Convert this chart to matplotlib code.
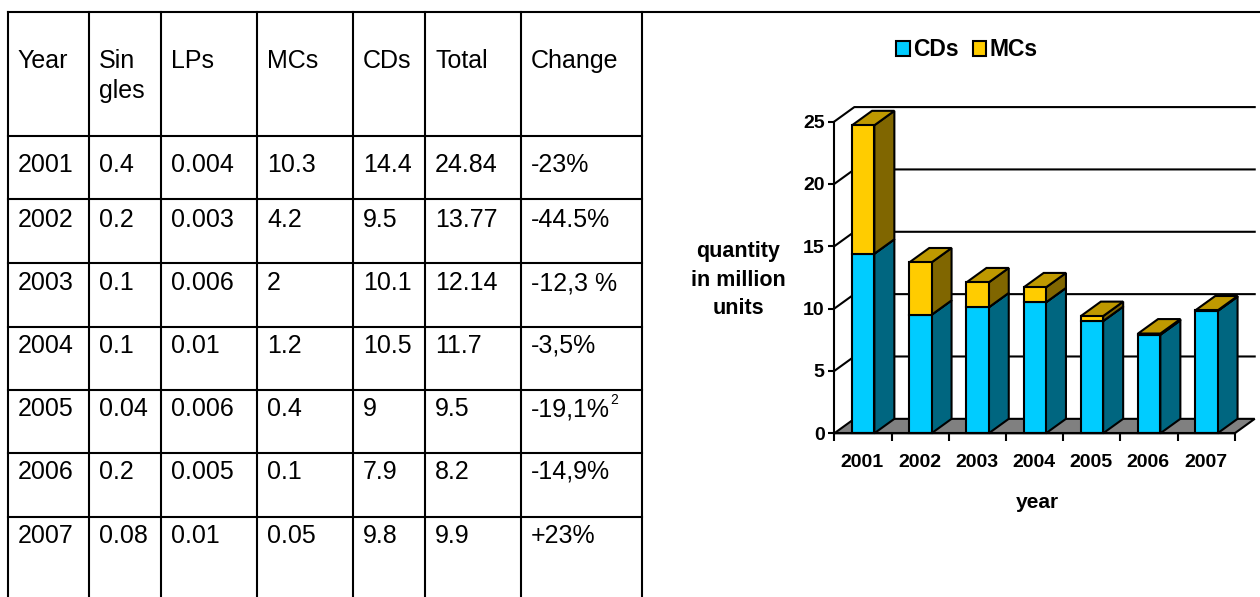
import numpy as np
import matplotlib.pyplot as plt
from matplotlib.patches import Patch

plt.rcParams['font.family'] = ['Liberation Sans', 'DejaVu Sans']

# --- data ---
years = ['2001', '2002', '2003', '2004', '2005', '2006', '2007']
singles = [0.4, 0.2, 0.1, 0.1, 0.04, 0.2, 0.08]
lps = [0.004, 0.003, 0.006, 0.01, 0.006, 0.005, 0.01]
mcs = [10.3, 4.2, 2, 1.2, 0.4, 0.1, 0.05]
cds = [14.4, 9.5, 10.1, 10.5, 9, 7.9, 9.8]
totals = [24.84, 13.77, 12.14, 11.7, 9.5, 8.2, 9.9]
change = ['-23%', '-44.5%', '-12,3 %', '-3,5%', '-19,1%', '-14,9%', '+23%']
footnote_row = 4
headers = ['Year', 'Sin\ngles', 'LPs', 'MCs', 'CDs', 'Total', 'Change']

W, H = 1260, 597
fig = plt.figure(figsize=(W / 100, H / 100), dpi=100)

# ---------- tabla (coordenadas en pixeles) ----------
tab = fig.add_axes([0, 0, 1, 1])
tab.set_xlim(0, W)
tab.set_ylim(H, 0)
tab.axis('off')

col_x = [7.5, 89, 161, 257, 353, 425, 521, 642]
row_y = [12, 136, 199.3, 262.7, 326.5, 390, 453.3, 517]
row_base = [172, 227, 290, 353, 416, 479, 543]

lw = 1.5
for x in col_x:
    tab.plot([x, x], [12, H], color='black', lw=lw, solid_capstyle='projecting')
for y in row_y[1:]:
    tab.plot([col_x[0], col_x[-1]], [y, y], color='black', lw=lw)
tab.plot([col_x[0], W], [12, 12], color='black', lw=lw, solid_capstyle='projecting')

fs_tab = 18
for j, h in enumerate(headers):
    for k, linea in enumerate(h.split('\n')):
        tab.text(col_x[j] + 10, 68 + 30 * k, linea, fontsize=fs_tab, va='baseline', ha='left')

columnas = [years, singles, lps, mcs, cds, totals, change]
for j, col in enumerate(columnas):
    for i, v in enumerate(col):
        s = v if isinstance(v, str) else f'{v:g}'
        t = tab.text(col_x[j] + 10, row_base[i], s, fontsize=fs_tab, va='baseline', ha='left')
        if j == 6 and i == footnote_row:
            tab.annotate('2', xy=(1, 1), xycoords=t, xytext=(0, 3), textcoords='offset points',
                         fontsize=10, ha='left', va='top')

# ---------- grafico 3D simulado ----------
px_cat = 57.2
px_val = 12.47
x0_px, y0_px = 834.3, 433.3
xmax, ymax = 7.4, 26.3
ax = fig.add_axes([x0_px / W, (H - y0_px) / H, xmax * px_cat / W, ymax * px_val / H])
ax.set_xlim(0, xmax)
ax.set_ylim(0, ymax)
ax.patch.set_visible(False)

ddx, ddy = 0.35, 1.16
n = len(years)

cd_front, cd_side, cd_top = '#00CCFF', '#006680', '#00A3CC'
mc_front, mc_side, mc_top = '#FFCC00', '#806600', '#BF9900'

# pared del fondo: lineas de cuadricula
for v in range(5, 26, 5):
    ax.plot([0, ddx, n + ddx], [v, v + ddy, v + ddy], color='black', lw=lw, zorder=1,
            clip_on=False)
# suelo
ax.fill([0, n, n + ddx, ddx], [0, 0, ddy, ddy], facecolor='#808080', edgecolor='black',
        lw=lw, zorder=2, clip_on=False)

xpos = np.arange(n) + 0.31
ancho = 0.39


def caja(x, b, t, c_front, c_side, c_top):
    x1 = x + ancho
    ax.fill([x1, x1 + ddx, x1 + ddx, x1], [b, b + ddy, t + ddy, t],
            facecolor=c_side, edgecolor='black', lw=lw, zorder=3, clip_on=False)
    ax.fill([x, x + ddx, x1 + ddx, x1], [t, t + ddy, t + ddy, t],
            facecolor=c_top, edgecolor='black', lw=lw, zorder=3, clip_on=False)


for i in range(n):
    caja(xpos[i], 0, cds[i], cd_front, cd_side, cd_top)
ax.bar(xpos, cds, width=ancho, align='edge', color=cd_front, edgecolor='black',
       lw=lw, zorder=4, clip_on=False)
for i in range(n):
    caja(xpos[i], cds[i], cds[i] + mcs[i], mc_front, mc_side, mc_top)
ax.bar(xpos, mcs, bottom=cds, width=ancho, align='edge', color=mc_front,
       edgecolor='black', lw=lw, zorder=4, clip_on=False)

# ejes
for s in ['top', 'right']:
    ax.spines[s].set_visible(False)
ax.spines['left'].set_bounds(0, 25)
ax.spines['bottom'].set_bounds(0, n)
for s in ['left', 'bottom']:
    ax.spines[s].set_linewidth(lw)
    ax.spines[s].set_zorder(5)

ax.set_yticks(range(0, 26, 5))
ax.set_yticklabels([str(v) for v in range(0, 26, 5)], fontsize=14, fontweight='bold')
ax.tick_params(axis='y', length=4, width=lw, pad=3)
ax.set_xticks(range(n + 1))
ax.set_xticklabels([])
ax.set_xticks(np.arange(n) + 0.49, minor=True)
ax.set_xticklabels(years, minor=True, fontsize=14, fontweight='bold')
ax.tick_params(axis='x', which='major', length=6, width=lw)
ax.tick_params(axis='x', which='minor', length=0, pad=15)

ax.set_ylabel('quantity\nin million\nunits', rotation=0, fontsize=15.5, fontweight='bold',
              ha='center', va='center', linespacing=1.45)
ax.yaxis.set_label_coords((738 - x0_px) / (xmax * px_cat), (y0_px - 280) / (ymax * px_val))
ax.set_xlabel('year', fontsize=15, fontweight='bold', va='baseline')
ax.xaxis.set_label_coords((1037 - x0_px) / (xmax * px_cat), (y0_px - 508) / (ymax * px_val))

handles = [Patch(facecolor=cd_front, edgecolor='black', lw=lw),
           Patch(facecolor=mc_front, edgecolor='black', lw=lw)]
fig.legend(handles, ['CDs', 'MCs'], loc='center', bbox_to_anchor=(967 / W, 1 - 50 / H),
           ncol=2, frameon=False, handlelength=0.6, handleheight=0.6, handletextpad=0.15,
           columnspacing=0.6, prop=dict(weight='bold', size=16.5))

fig.savefig('out.png', dpi=100)
